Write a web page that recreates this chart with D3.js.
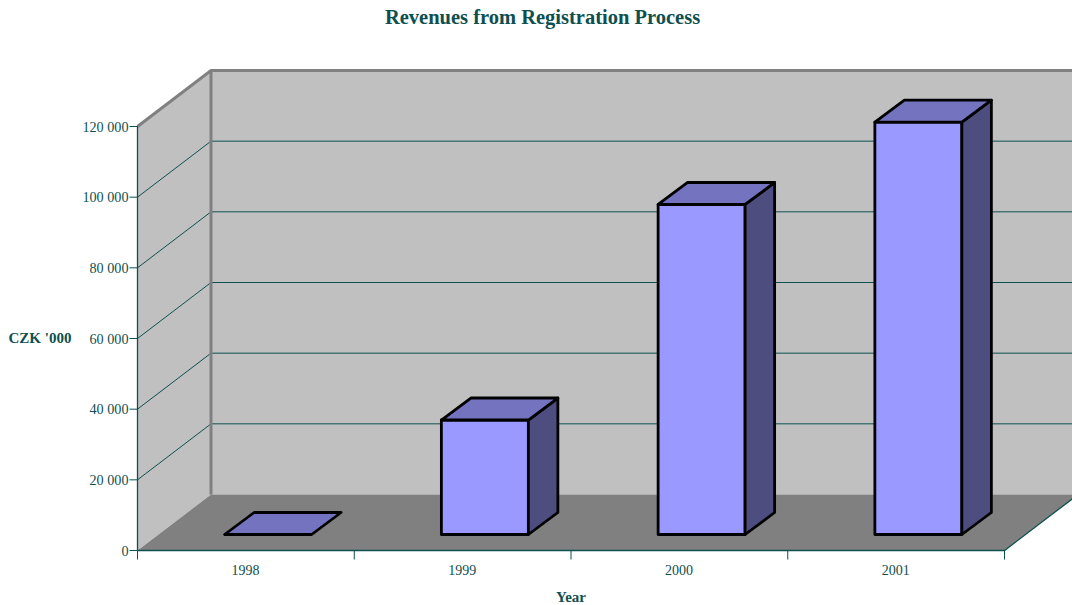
<!DOCTYPE html>
<html><head><meta charset="utf-8">
<script src="https://cdn.jsdelivr.net/npm/d3@7"></script>
<style>html,body{margin:0;padding:0;background:#fff}svg{display:block}text{font-family:"Liberation Serif",serif}</style>
</head><body><svg id="c" width="1072" height="605"></svg>
<script>
const categories = ["1998","1999","2000","2001"];
const revenues = [0, 32400, 93400, 116700];
const yTicks = [0,20000,40000,60000,80000,100000,120000];
const title = "Revenues from Registration Process";
const yTitle = "CZK '000";
const xTitle = "Year";

const W=1072,H=605, teal="#0e4f4f", textCol="#0e4f4f", gray="#808080", wall="#c0c0c0";
const face="#9999ff", top_="#7373bf", side="#4d4d80";
const L=137.5,R=1004.5,B=550.5,T=126.5;
const dx=73.5,dy=-56;        // wall depth
const bdx=29.5,bdy=-22;      // bar depth
const boff=16,boffX=22.25;   // bar front offset from axis plane
const svg=d3.select("#c");
const x=d3.scaleBand().domain(categories).range([L,R]).paddingInner(0).paddingOuter(0);
const y=d3.scaleLinear().domain([0,120000]).range([B,T]);
const fmt=v=>d3.format(",")(v).replace(/,/g," ");
const poly=p=>d3.line()(p)+"Z";

// walls
const g=svg.append("g");
g.append("path").attr("d",poly([[L+dx,T+dy],[R+dx,T+dy],[R+dx,B+dy],[L+dx,B+dy]])).attr("fill",wall);
g.append("path").attr("d",poly([[L,T],[L+dx,T+dy],[L+dx,B+dy],[L,B]])).attr("fill",wall);
g.append("path").attr("d",poly([[L,B],[L+dx,B+dy],[R+dx,B+dy],[R,B]])).attr("fill",gray);

// gridlines
yTicks.filter(t=>t>0&&t<120000).forEach(t=>{
  g.append("path").attr("d",d3.line()([[L,y(t)],[L+dx,y(t)+dy],[R+dx,y(t)+dy]]))
   .attr("fill","none").attr("stroke",teal).attr("stroke-width",1);
});
// wall edges
g.append("path").attr("d",d3.line()([[L,T],[L+dx,T+dy],[R+dx,T+dy]])).attr("fill","none").attr("stroke",gray).attr("stroke-width",3);
g.append("line").attr("x1",L+dx).attr("x2",L+dx).attr("y1",T+dy).attr("y2",B+dy).attr("stroke",gray).attr("stroke-width",3);

// bars
const barW=87;
categories.forEach((c,i)=>{
  const x0=x(c)+(x.bandwidth()-barW)/2+boffX, x1=x0+barW;
  const yb=B-boff, yt=y(revenues[i])-boff;
  const s={stroke:"#000","stroke-width":2.8,"stroke-linejoin":"round"};
  const add=(pts,f)=>{const p=g.append("path").attr("d",poly(pts)).attr("fill",f);Object.entries(s).forEach(([k,v])=>p.attr(k,v));};
  if(revenues[i]>0){
    add([[x0,yb],[x1,yb],[x1,yt],[x0,yt]],face);
    add([[x1,yb],[x1+bdx,yb+bdy],[x1+bdx,yt+bdy],[x1,yt]],side);
  }
  add([[x0,yt],[x1,yt],[x1+bdx,yt+bdy],[x0+bdx,yt+bdy]],top_);
});

// axes
const ax=svg.append("g");
ax.append("line").attr("x1",L).attr("x2",L).attr("y1",T).attr("y2",B).attr("stroke",teal).attr("stroke-width",1.3);
ax.append("path").attr("d",d3.line()([[L,B],[R,B],[R+dx,B+dy]])).attr("fill","none").attr("stroke",teal).attr("stroke-width",1.3);
yTicks.forEach(t=>{
  ax.append("line").attr("x1",L-8).attr("x2",L).attr("y1",y(t)).attr("y2",y(t)).attr("stroke",teal);
  ax.append("text").attr("x",L-9).attr("y",y(t)+5).attr("text-anchor","end").attr("font-size",14.2).attr("fill",textCol).text(fmt(t));
});
categories.concat(["end"]).forEach((c,i)=>{
  const px=i<categories.length?x(c):R;
  ax.append("line").attr("x1",px).attr("x2",px).attr("y1",B).attr("y2",B+9).attr("stroke",teal);
});
categories.forEach(c=>{
  ax.append("text").attr("x",x(c)+x.bandwidth()/2-0.5).attr("y",575).attr("text-anchor","middle").attr("font-size",14).attr("fill",textCol).text(c);
});
svg.append("text").attr("x",542.5).attr("y",24).attr("text-anchor","middle").attr("font-size",20.5).attr("font-weight","bold").attr("fill",textCol).text(title);
svg.append("text").attr("x",40).attr("y",343).attr("text-anchor","middle").attr("font-size",15).attr("font-weight","bold").attr("fill",textCol).text(yTitle);
svg.append("text").attr("x",571).attr("y",602).attr("text-anchor","middle").attr("font-size",15).attr("font-weight","bold").attr("fill",textCol).text(xTitle);
</script></body></html>
